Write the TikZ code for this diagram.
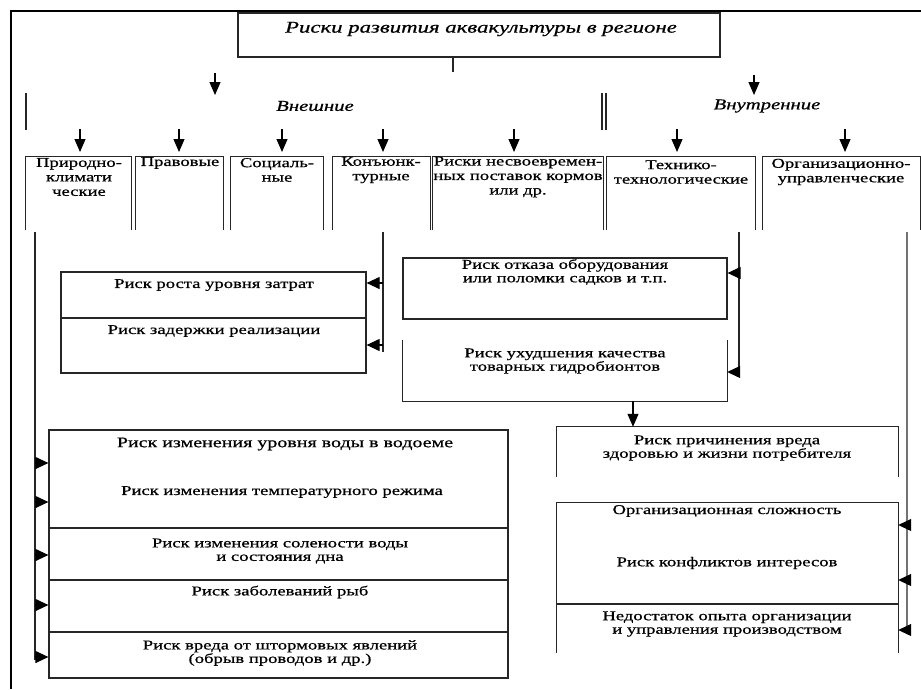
\documentclass[tikz,border=0pt]{standalone}
\usepackage{fontspec}
\setmainfont[FakeStretch=1.38,FakeBold=0.7]{Liberation Serif}
\usetikzlibrary{arrows.meta}

\begin{document}
\begin{tikzpicture}[x=1pt,y=-1pt,
  frame/.style={line width=2pt,black},
  edge/.style={draw=black!85,line width=1.2pt},
  area/.style={draw=none,inner sep=0pt,minimum width=#1},
  txt/.style={inner sep=0pt,align=center,font=\fontsize{13.5}{14.5}\selectfont},
  head/.style={inner sep=0pt,font=\fontsize{15}{17}\selectfont\itshape},
  arr/.style={draw=black,line width=1.1pt,-{Triangle[length=13pt,width=11pt]}},
  arrl/.style={draw=black,line width=1.1pt,-{Triangle[length=13pt,width=12pt]}}]
\useasboundingbox (0,0) rectangle (921,689);

% outer frame (top and left)
\draw[frame] (11,689) -- (11,11) -- (921,11);

% title
\node[draw=black!85,line width=1.2pt,inner sep=0pt,minimum width=482pt,minimum height=44pt] (title) at (479,35) {};
\node[head,font=\fontsize{16.5}{18}\selectfont\itshape] (titletext) at (481,29) {Риски развития аквакультуры в регионе};
\coordinate (split) at (453,72);
\draw[edge] (title.south -| split) -- (split);

% the two groups
\coordinate (extTop) at (215,73);
\coordinate (intTop) at (754,75);
\node[head] (ext) at (315,106) {Внешние};
\node[head] (int) at (767,106) {Внутренние};
\coordinate (extA) at (215,95);
\coordinate (intA) at (754,95);
\draw[arr] (extTop) -- (extA);
\draw[arr] (intTop) -- (intA);
\draw[edge] (26,93) -- (26,130);
\draw[edge] (602,93) -- (602,130);
\draw[edge] (606,93) -- (606,130);

% category boxes (open at the bottom)
\foreach \n/\cx/\w in {c1/78.5/105, c2/179.5/87, c3/277/92, c4/381.5/97,
                       c5/518/170, c6/681/148, c7/841.5/157} {
  \node[area=\w pt,minimum height=73pt] (\n) at (\cx,193.5) {};
  \draw[edge] (\n.south west) -- (\n.north west) -- (\n.north east) -- (\n.south east);
}
\foreach \n/\x in {c1/80, c2/179, c3/282, c4/383, c5/514, c6/677, c7/845} {
  \coordinate (\n top) at (\x,129);
  \draw[arr] (\n top) -- (\x,152);
}

\node[txt] (t1) at (79,177) {Природно-\\климати\\ческие};
\node[txt] (t2) at (180,163) {Правовые};
\node[txt] (t3) at (277,170) {Социаль-\\ные};
\node[txt] (t4) at (381,170) {Конъюнк-\\турные};
\node[txt] (t5) at (518,177) {Риски несвоевремен-\\ных поставок кормов\\или др.};
\node[txt] (t6) at (681,172) {Технико-\\технологические};
\node[txt] (t7) at (841,172) {Организационно-\\управленческие};

% ---- market risks
\node[area=305pt,minimum height=101pt,draw=black!85,line width=1.2pt] (cost) at (213.5,322.5) {};
\draw[edge] (61,318) -- (366,318);
\node[txt] at (214,285) {Риск роста уровня затрат};
\node[txt] at (214,331) {Риск задержки реализации};
\coordinate (m0) at (383,232);
\coordinate (m1) at (383,283);
\coordinate (m2) at (383,352);
\draw[edge] (m0) -- (m2);
\draw[arrl] (m1) -- (cost.east |- m1);
\draw[arrl] (383,345) -- (cost.east |- 0,345);

% ---- technical risks
\node[area=324pt,minimum height=61pt,draw=black!85,line width=1.2pt] (fail) at (565,288.5) {};
\node[txt] at (565,272) {Риск отказа оборудования\\[-1pt]или поломки садков и т.п.};
\node[area=324pt,minimum height=61pt] (qual) at (565,370.5) {};
\draw[edge] (qual.north west) -- (qual.south west) -- (qual.south east) -- (qual.north east);
\node[txt] at (565,361) {Риск ухудшения качества\\[-1pt]товарных гидробионтов};
\coordinate (k0) at (739,232);
\coordinate (k1) at (739,273);
\coordinate (k2) at (739,372);
\draw[edge] (k0) -- (k2);
\draw[arrl] (k1) -- (fail.east |- k1);
\draw[arrl] (k2) -- (qual.east |- k2);

\node[area=341pt,minimum height=50pt] (harm) at (727.5,452) {};
\draw[edge] (harm.south west) -- (harm.north west) -- (harm.north east) -- (harm.south east);
\node[txt] at (727,448) {Риск причинения вреда\\[-1pt]здоровью и жизни потребителя};
\draw[arr] (qual.south -| 633,0) -- (harm.north -| 633,0);

% ---- organisational risks
\node[area=341pt,minimum height=150pt] (org) at (727.5,578) {};
\draw[edge] (org.south west) -- (org.north west) -- (org.north east) -- (org.south east);
\draw[edge] (557,604) -- (898,604);
\node[txt] at (727,511) {Организационная сложность};
\node[txt] at (727,563) {Риск конфликтов интересов};
\node[txt] at (727,624) {Недостаток опыта организации\\[-1pt]и управления производством};
\coordinate (o0) at (907,232);
\coordinate (o3) at (907,630);
\draw[draw=black!55,line width=1.2pt] (o0) -- (o3);
\foreach \y in {525,580,630}
  \draw[arrl] (907,\y) -- (org.east |- 0,\y);

% ---- natural and climatic risks
\node[area=459pt,minimum height=248pt,draw=black!85,line width=1.2pt] (nat) at (278.5,554) {};
\draw[edge] (49,528) -- (508,528);
\draw[edge] (49,580) -- (508,580);
\draw[edge] (49,632) -- (508,632);
\node[txt,font=\fontsize{14.5}{15.5}\selectfont] at (285,444) {Риск изменения уровня воды в водоеме};
\node[txt] at (282,492) {Риск изменения температурного режима};
\node[txt] at (280,551) {Риск изменения солености воды\\[-1pt]и состояния дна};
\node[txt] at (280,592) {Риск заболеваний рыб};
\node[txt] at (280,653) {Риск вреда от штормовых явлений\\[-1pt](обрыв проводов и др.)};
\coordinate (n0) at (35,232);
\coordinate (n5) at (35,660);
\draw[edge] (n0) -- (n5);
\foreach \y in {463,502,555,605,657}
  \draw[arrl] (35,\y) -- (nat.west |- 0,\y);
\end{tikzpicture}
\end{document}
